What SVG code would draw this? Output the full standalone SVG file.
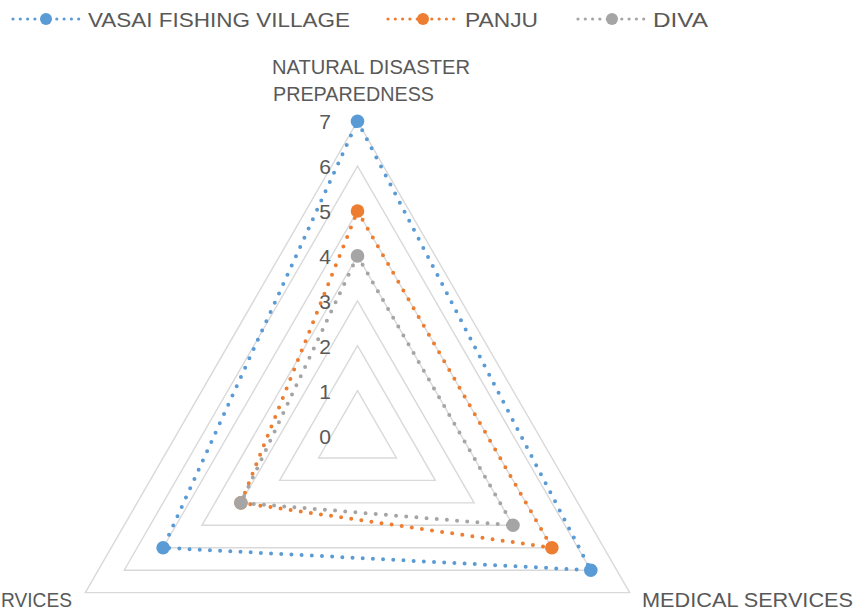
<svg xmlns="http://www.w3.org/2000/svg" width="857" height="611" viewBox="0 0 857 611">
<style>
text{font-family:"Liberation Sans",Arial,sans-serif;fill:#595959;font-size:21px}
.grid{fill:none;stroke:#D9D9D9;stroke-width:1.4}
.s{fill:none;stroke-width:4;stroke-linecap:round;stroke-linejoin:round;stroke-dasharray:0 10.2}
.lg{fill:none;stroke-width:3.2;stroke-linecap:round;stroke-dasharray:0 7.3}
.blue{stroke:#5B9BD5}.orange{stroke:#ED7D31}.gray{stroke:#A5A5A5}
.tick{text-anchor:end}
</style>
<rect width="857" height="611" fill="#FFFFFF"/>
<g id="legend">
<g id="legend-vasai"><line class="lg blue" x1="13" y1="19" x2="79" y2="19"/><circle cx="46" cy="19" r="6" fill="#5B9BD5"/><text x="88" y="27" textLength="262" lengthAdjust="spacingAndGlyphs">VASAI FISHING VILLAGE</text></g>
<g id="legend-panju"><line class="lg orange" x1="388" y1="19" x2="458" y2="19"/><circle cx="423" cy="19" r="6" fill="#ED7D31"/><text x="465" y="27" textLength="73" lengthAdjust="spacingAndGlyphs">PANJU</text></g>
<g id="legend-diva"><line class="lg gray" x1="578" y1="19" x2="647" y2="19"/><circle cx="612" cy="19" r="6" fill="#A5A5A5"/><text x="653" y="27" textLength="55" lengthAdjust="spacingAndGlyphs">DIVA</text></g>
</g>
<g id="grid">
<polygon class="grid" points="357.5,390.6 396.4,457.95 318.6,457.95"/>
<polygon class="grid" points="357.5,345.7 435.3,480.4 279.7,480.4"/>
<polygon class="grid" points="357.5,300.8 474.1,502.85 240.9,502.85"/>
<polygon class="grid" points="357.5,255.9 513.0,525.3 202.0,525.3"/>
<polygon class="grid" points="357.5,211.0 551.9,547.75 163.1,547.75"/>
<polygon class="grid" points="357.5,166.1 590.8,570.2 124.2,570.2"/>
<polygon class="grid" points="357.5,121.2 629.7,592.65 85.3,592.65"/>
</g>
<g id="ticks">
<text class="tick" x="331" y="443.5">0</text>
<text class="tick" x="331" y="398.6">1</text>
<text class="tick" x="331" y="353.7">2</text>
<text class="tick" x="331" y="308.8">3</text>
<text class="tick" x="331" y="263.9">4</text>
<text class="tick" x="331" y="219">5</text>
<text class="tick" x="331" y="174.1">6</text>
<text class="tick" x="331" y="129.2">7</text>
</g>
<g id="axis-labels">
<g id="axis-natural-disaster"><text x="272" y="74" textLength="198" lengthAdjust="spacingAndGlyphs">NATURAL DISASTER</text><text x="273" y="101" textLength="161" lengthAdjust="spacingAndGlyphs">PREPAREDNESS</text></g>
<g id="axis-medical"><text x="642" y="607" textLength="211" lengthAdjust="spacingAndGlyphs">MEDICAL SERVICES</text></g>
<g id="axis-services"><text x="1" y="607" textLength="71" lengthAdjust="spacingAndGlyphs">RVICES</text></g>
</g>
<g id="connectors">
<polygon id="series-vasai" class="s blue" points="357.5,121.2 590.8,570.2 163.1,547.75"/>
<polygon id="series-panju" class="s orange" points="357.5,211.0 551.9,547.75 240.9,502.85"/>
<polygon id="series-diva" class="s gray" points="357.5,255.9 513.0,525.3 240.9,502.85"/>
</g>
<g id="markers-vasai" fill="#5B9BD5"><circle cx="357.5" cy="121.2" r="6.8"/><circle cx="590.8" cy="570.2" r="6.8"/><circle cx="163.1" cy="547.75" r="6.8"/></g>
<g id="markers-panju" fill="#ED7D31"><circle cx="357.5" cy="211.0" r="6.8"/><circle cx="551.9" cy="547.75" r="6.8"/><circle cx="240.9" cy="502.85" r="6.8"/></g>
<g id="markers-diva" fill="#A5A5A5"><circle cx="357.5" cy="255.9" r="6.8"/><circle cx="513.0" cy="525.3" r="6.8"/><circle cx="240.9" cy="502.85" r="6.8"/></g>
</svg>
